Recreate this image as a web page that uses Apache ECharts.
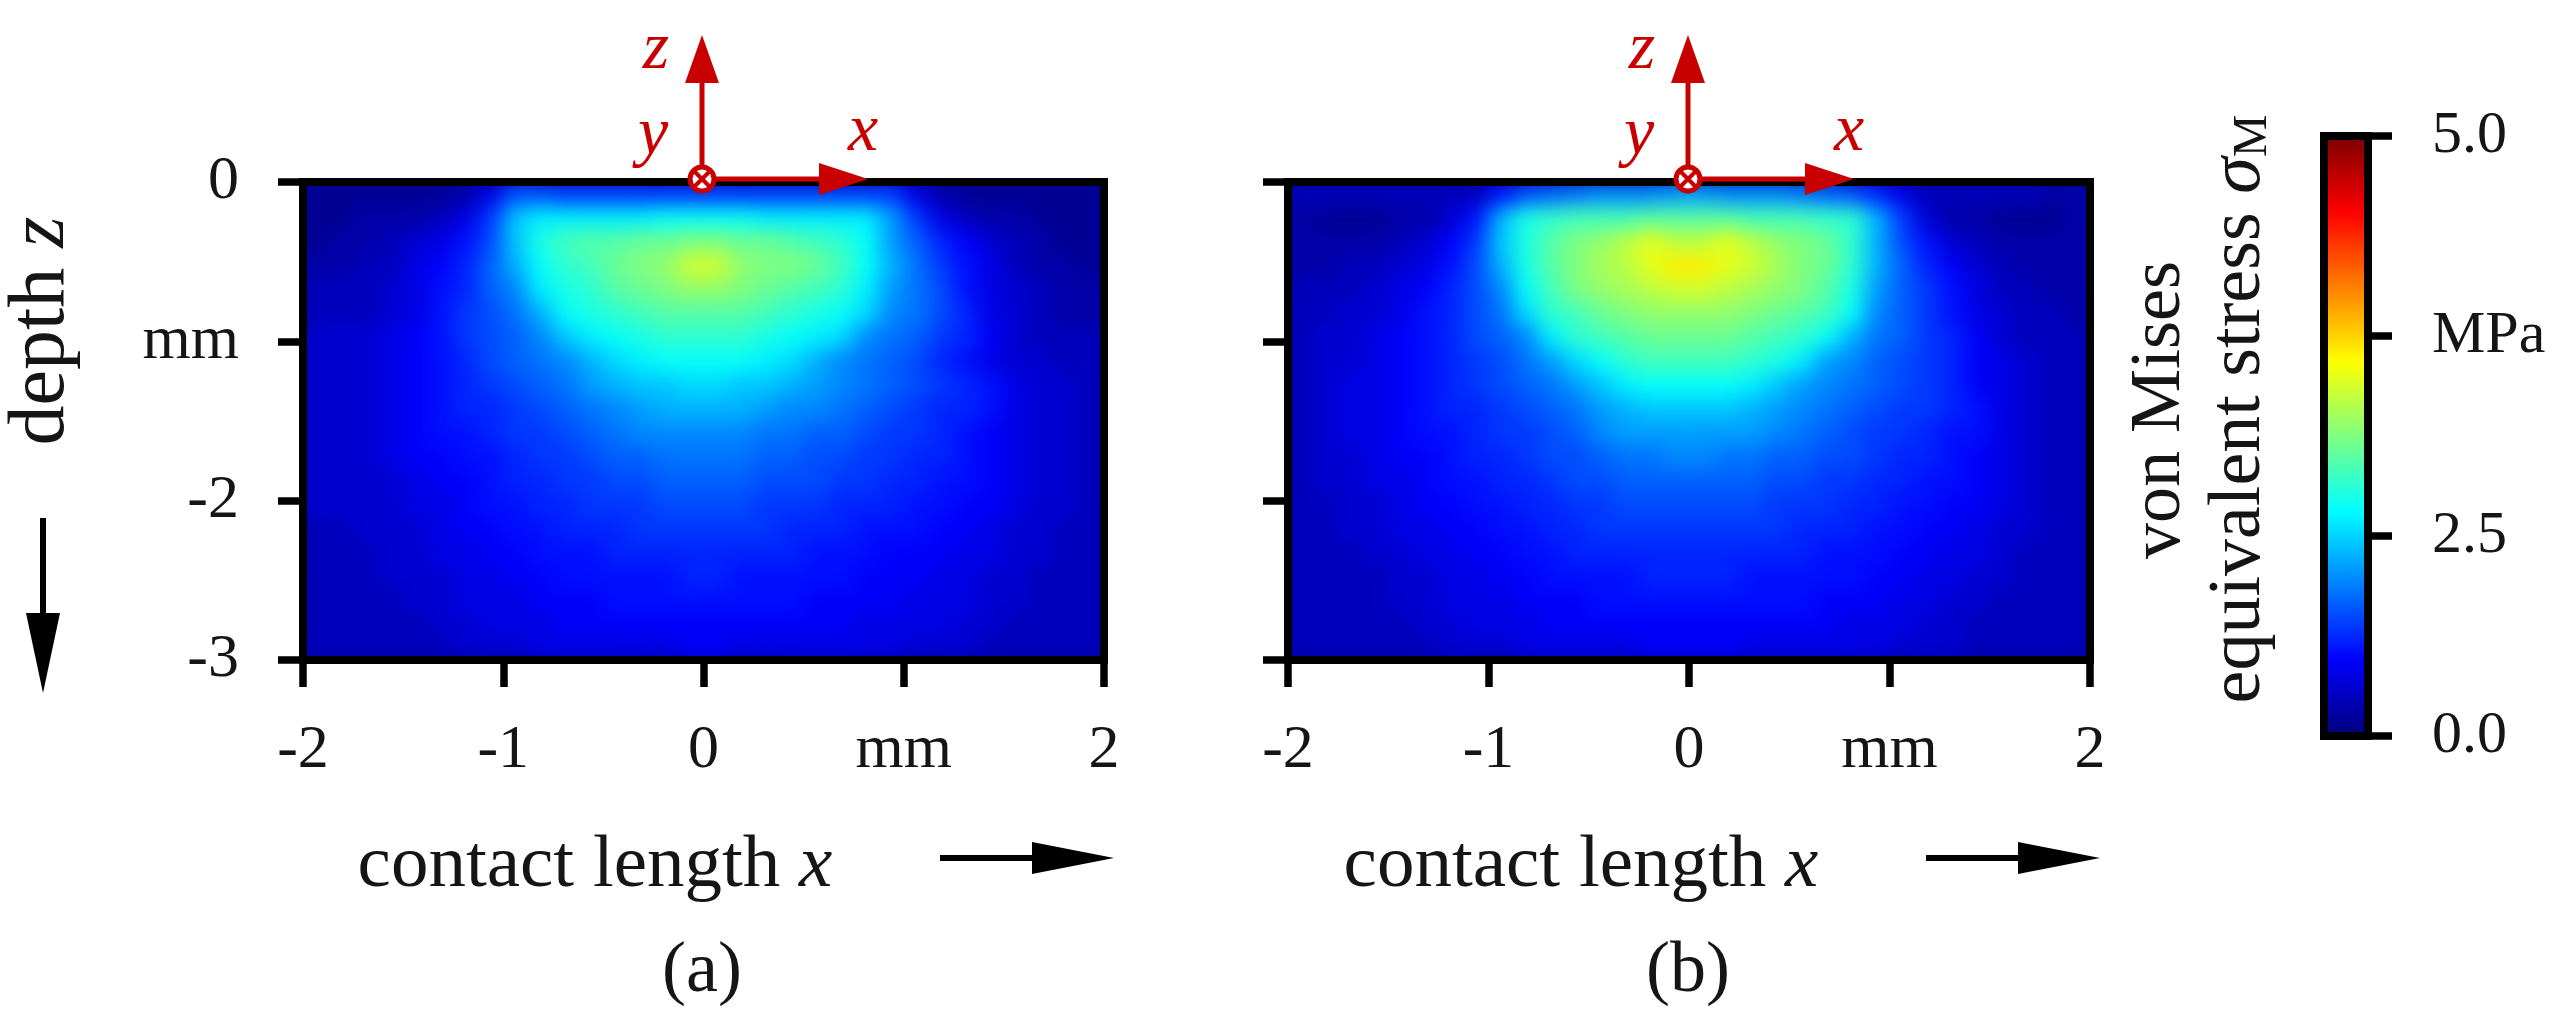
<!DOCTYPE html>
<html><head><meta charset="utf-8">
<style>
html,body{margin:0;padding:0;background:#fff;width:2564px;height:1030px;overflow:hidden}
#chart{width:2564px;height:1030px}
#chart canvas[data-zr-dom-id="zr_1"]{filter:blur(10px);clip-path:path('M303 182h801v478h-801z M1288 182h802v478h-802z')}
</style>
<script src="https://cdn.jsdelivr.net/npm/echarts@6/dist/echarts.min.js"></script>
</head><body><div id="chart"></div>
<script>
// cell centres (mm)
const xCells=[-1.94,-1.81,-1.69,-1.56,-1.44,-1.31,-1.19,-1.06,-0.94,-0.81,-0.69,-0.56,-0.44,-0.31,-0.19,-0.06,0.06,0.19,0.31,0.44,0.56,0.69,0.81,0.94,1.06,1.19,1.31,1.44,1.56,1.69,1.81,1.94];
const zCells=[-0.08,-0.23,-0.38,-0.53,-0.68,-0.83,-0.98,-1.13,-1.28,-1.43,-1.58,-1.73,-1.88,-2.03,-2.18,-2.33,-2.48,-2.63,-2.78,-2.93];
const xTickLabels=['-2','-1','0','mm','2'];
const zTickLabels={'0':'0','-1':'mm','-2':'-2','-3':'-3'};
const colorbarTicks=['0.0','2.5','MPa','5.0'];
// von Mises stress, in 0.1 MPa, one row per depth
const stressA=[
[1,1,1,1,1,1,2,5,10,10,9,9,9,9,9,9,9,9,9,9,9,9,9,9,5,2,1,1,1,1,1,1],
[1,1,2,2,2,3,5,9,16,18,18,18,18,18,19,19,19,19,18,18,18,18,18,14,9,5,3,2,2,1,1,1],
[1,2,2,3,4,5,7,10,16,20,22,23,23,24,24,25,25,24,24,23,22,21,19,14,11,8,6,4,3,2,1,1],
[2,2,3,3,5,6,8,11,15,19,21,22,24,25,26,29,29,26,25,25,24,22,19,15,12,9,7,5,3,2,2,1],
[3,3,3,4,5,7,8,11,13,18,20,21,23,24,25,26,26,25,24,23,22,21,18,14,12,10,7,5,4,3,2,2],
[3,3,3,4,5,7,9,10,12,15,19,20,21,22,23,23,23,23,22,21,20,19,17,13,12,10,8,5,4,3,2,2],
[4,4,4,5,6,7,9,10,11,13,16,18,19,20,21,21,21,21,20,19,18,17,13,12,11,9,8,6,4,3,3,3],
[4,4,4,5,6,7,8,10,11,12,13,15,17,18,19,19,19,19,18,17,15,13,12,11,10,8,7,5,4,4,3,3],
[4,4,4,5,6,7,8,9,10,11,12,14,15,16,16,17,17,16,16,15,14,13,12,11,10,9,8,7,5,4,4,3],
[4,4,4,5,6,7,8,8,9,10,11,12,13,14,15,15,15,15,14,13,13,12,11,10,9,8,8,7,5,4,4,3],
[4,4,4,5,6,7,7,8,9,9,10,11,12,13,13,13,13,13,12,12,11,11,10,9,9,8,7,6,5,4,4,3],
[4,4,4,5,6,6,7,7,8,9,9,10,11,11,12,12,12,12,11,11,10,10,9,9,8,8,7,6,5,4,4,3],
[4,4,4,4,5,6,6,7,8,8,9,9,10,10,11,11,11,11,10,10,10,9,9,8,8,7,7,6,5,4,4,3],
[4,4,4,4,5,5,6,7,7,8,8,9,9,9,10,10,10,10,9,9,9,8,8,8,7,7,6,6,5,4,4,3],
[3,3,4,4,4,5,6,6,7,7,8,8,8,9,9,9,9,9,9,8,8,8,7,7,7,6,6,5,4,4,3,3],
[3,3,3,4,4,5,5,6,6,7,7,7,8,8,8,8,8,8,8,8,7,7,7,6,6,6,5,5,4,4,3,3],
[3,3,3,4,4,4,5,5,6,6,7,7,7,7,7,8,8,7,7,7,7,7,6,6,6,5,5,4,4,3,3,3],
[3,3,3,3,4,4,5,5,5,6,6,6,7,7,7,7,7,7,7,7,6,6,6,6,5,5,5,4,4,3,3,3],
[3,3,3,3,3,4,4,5,5,5,6,6,6,6,6,6,6,6,6,6,6,6,5,5,5,5,4,4,3,3,3,3],
[3,3,3,3,3,3,4,4,4,5,5,5,5,5,5,6,6,5,5,5,5,5,5,5,4,4,4,3,3,3,3,3]
];
const stressB=[
[3,3,3,3,3,3,3,3,7,10,11,12,13,13,13,14,14,13,13,13,12,11,10,8,5,3,3,3,3,3,2,2],
[2,1,1,1,2,2,4,7,15,20,21,22,22,22,23,23,23,23,22,22,22,21,21,15,9,4,2,2,1,1,1,2],
[2,2,2,2,3,4,6,9,16,20,23,25,26,28,30,28,28,30,28,26,25,24,21,15,10,7,4,3,2,2,2,2],
[2,2,3,3,4,5,7,10,15,20,23,25,27,28,30,32,32,30,29,27,25,24,21,15,11,8,6,4,3,2,2,2],
[3,3,3,4,5,6,8,10,13,19,22,25,26,27,28,29,29,28,27,26,25,23,20,14,11,9,7,5,3,3,2,2],
[3,3,4,4,5,7,8,10,12,17,21,22,24,25,26,26,26,26,25,24,23,22,19,13,11,9,7,5,4,3,3,2],
[3,4,4,5,6,7,8,10,11,13,18,21,22,23,24,24,24,24,23,22,21,19,15,12,11,9,8,6,4,3,3,3],
[3,4,4,5,6,7,8,9,10,12,14,17,19,21,22,22,22,22,21,20,18,14,13,11,10,9,8,6,5,4,3,3],
[3,4,5,5,6,7,8,9,10,11,12,14,16,18,19,19,19,19,18,16,14,13,12,11,10,9,8,6,5,4,3,3],
[3,4,5,5,6,7,8,8,9,10,11,12,14,15,16,16,16,16,15,14,13,12,11,10,9,9,8,7,5,4,3,3],
[3,4,5,5,6,7,7,8,9,9,10,11,13,14,14,14,14,14,14,13,12,11,10,9,9,8,7,7,5,4,3,3],
[3,4,4,5,6,6,7,8,8,9,10,10,11,12,12,13,13,12,12,11,11,10,10,9,8,8,7,6,5,4,3,3],
[3,4,4,5,5,6,7,7,8,8,9,10,10,11,11,11,11,11,11,10,10,9,9,8,8,7,7,6,5,4,3,3],
[3,3,4,4,5,6,6,7,7,8,8,9,9,10,10,10,10,10,10,9,9,9,8,8,7,7,6,6,5,4,3,3],
[3,3,4,4,5,5,6,6,7,7,8,8,9,9,9,9,9,9,9,9,8,8,8,7,7,6,6,5,4,4,3,3],
[3,3,3,4,4,5,5,6,6,7,7,8,8,8,8,8,8,8,8,8,8,7,7,7,6,6,5,5,4,3,3,3],
[3,3,3,3,4,4,5,5,6,6,7,7,7,7,8,8,8,8,7,7,7,7,7,6,6,5,5,4,4,3,3,3],
[3,3,3,3,4,4,5,5,5,6,6,6,7,7,7,7,7,7,7,7,7,6,6,6,5,5,4,4,3,3,3,3],
[3,3,3,3,3,4,4,5,5,5,6,6,6,6,6,6,6,6,6,6,6,6,5,5,5,4,4,3,3,3,3,3],
[3,3,3,3,3,3,4,4,4,5,5,5,5,5,6,6,6,6,5,5,5,5,5,5,4,4,4,3,3,3,3,3]
];
const jet=['#00007f','#0000ff','#007fff','#00ffff','#7fff7f','#ffff00','#ff7f00','#ff0000','#7f0000'];

const SERIF='"Liberation Serif",serif', RED='#c80000', INK='#151515';
const toCells=rows=>rows.flatMap((r,j)=>r.map((v,i)=>[i,j,v]));
const hidden=(idx,extra)=>Object.assign({type:'category',gridIndex:idx,show:false,boundaryGap:true},extra);
const tickStyle={lineStyle:{color:'#000',width:7.5}};
function xValueAxis(g){return{type:'value',gridIndex:g,position:'bottom',min:-2,max:2,interval:1,zlevel:2,splitLine:{show:false},
  axisLine:{onZero:false,lineStyle:{color:'#000',width:8}},axisTick:Object.assign({length:27,inside:false},tickStyle),
  axisLabel:{margin:60,fontFamily:SERIF,fontSize:62,color:INK,showMinLabel:true,showMaxLabel:true,hideOverlap:false,formatter:v=>xTickLabels[v+2]}};}
function yValueAxis(g,labels){return{type:'value',gridIndex:g,position:'left',min:-3,max:0,interval:1,zlevel:2,splitLine:{show:false},
  axisLine:{onZero:false,lineStyle:{color:'#000',width:8}},axisTick:Object.assign({length:25},tickStyle),
  axisLabel:{show:labels,margin:64,fontFamily:SERIF,fontSize:62,color:INK,formatter:v=>zTickLabels[String(v)]}};}
const gridA={left:303,top:182,width:801,height:478}, gridB={left:1288,top:182,width:802,height:478}, gridC={left:2324,top:136,width:44,height:600};
const frame={show:true,borderColor:'#000',borderWidth:8,backgroundColor:'transparent',zlevel:2,z:5};

function arrow(x1,y1,x2,y2,head,half,w,color){
  const d=Math.hypot(x2-x1,y2-y1),ux=(x2-x1)/d,uy=(y2-y1)/d,bx=x2-ux*head,by=y2-uy*head;
  return [{type:'line',zlevel:3,shape:{x1,y1,x2:bx,y2:by},style:{stroke:color,lineWidth:w}},
          {type:'polygon',zlevel:3,shape:{points:[[x2,y2],[bx-uy*half,by+ux*half],[bx+uy*half,by-ux*half]]},style:{fill:color}}];
}
function txt(x,y,text,size,o){return Object.assign({type:'text',zlevel:3,x,y,style:Object.assign({text,fontFamily:SERIF,fontSize:size,fill:INK,textAlign:'center',textVerticalAlign:'middle'},o&&o.style)},o&&o.el);}
function axesMark(cx){
  const cy=179;
  return [...arrow(cx,cy,cx,35,48,17,5,RED),...arrow(cx,cy,cx+166,cy,49,16,5,RED),
    {type:'circle',zlevel:3,shape:{cx,cy,r:12},style:{fill:'#fff',stroke:RED,lineWidth:5}},
    {type:'line',zlevel:3,shape:{x1:cx-8,y1:cy-8,x2:cx+8,y2:cy+8},style:{stroke:RED,lineWidth:4}},
    {type:'line',zlevel:3,shape:{x1:cx+8,y1:cy-8,x2:cx-8,y2:cy+8},style:{stroke:RED,lineWidth:4}},
    txt(cx-46,50,'z',68,{style:{fill:RED,fontStyle:'italic'}}),
    txt(cx-49,136,'y',68,{style:{fill:RED,fontStyle:'italic'}}),
    txt(cx+161,132,'x',68,{style:{fill:RED,fontStyle:'italic'}})];
}
function xTitle(cx){
  return [txt(cx-107,866,'contact length {i|x}',75,{style:{rich:{i:{fontStyle:'italic',fontFamily:SERIF,fontSize:75,fill:INK}}}}),
    ...arrow(cx+238,858,cx+412,858,82,16,6,'#000'),
    txt(cx,972,cx<1000?'(a)':'(b)',72)];
}
const option={
  animation:false,
  grid:[Object.assign({},gridA,frame),Object.assign({},gridB,frame),Object.assign({},gridC,frame)],
  xAxis:[hidden(0,{data:xCells}),xValueAxis(0),hidden(1,{data:xCells}),xValueAxis(1),
    {type:'value',gridIndex:2,show:false,min:0,max:1}],
  yAxis:[hidden(0,{data:zCells,inverse:true}),yValueAxis(0,true),hidden(1,{data:zCells,inverse:true}),yValueAxis(1,false),
    {type:'value',gridIndex:2,position:'right',min:0,max:3,interval:1,zlevel:2,splitLine:{show:false},
     axisLine:{onZero:false,lineStyle:{color:'#000',width:8}},axisTick:{length:24,lineStyle:{color:'#000',width:7.5}},
     axisLabel:{margin:64,fontFamily:SERIF,fontSize:60,color:INK,formatter:v=>colorbarTicks[v]}}],
  visualMap:{type:'continuous',min:0,max:50,seriesIndex:[0,1],orient:'vertical',left:2326,top:138,itemWidth:40,itemHeight:596,padding:0,
    text:null,showLabel:false,calculable:false,realtime:false,hoverLink:false,inRange:{color:jet},textStyle:{fontSize:0,color:'transparent'},formatter:()=>''},
  series:[
    {type:'heatmap',xAxisIndex:0,yAxisIndex:0,zlevel:1,progressive:0,data:toCells(stressA),emphasis:{disabled:true}},
    {type:'heatmap',xAxisIndex:2,yAxisIndex:2,zlevel:1,progressive:0,data:toCells(stressB),emphasis:{disabled:true}}
  ],
  graphic:{elements:[
    {type:'rect',zlevel:0,shape:{x:303,y:182,width:801,height:478},style:{fill:'#00009a'}},
    {type:'rect',zlevel:0,shape:{x:1288,y:182,width:802,height:478},style:{fill:'#00009a'}},
    ...axesMark(702),...axesMark(1688),...xTitle(702),...xTitle(1688),
    txt(42,331,'depth {i|z}',80,{el:{rotation:Math.PI/2},style:{rich:{i:{fontStyle:'italic',fontFamily:SERIF,fontSize:80,fill:INK}}}}),
    ...arrow(43,518,43,693,80,17,6,'#000'),
    txt(2160,410,'von Mises',72,{el:{rotation:Math.PI/2}}),
    txt(2240,409,'equivalent stress {i|σ}{s|M}',74,{el:{rotation:Math.PI/2},style:{rich:{i:{fontStyle:'italic',fontFamily:SERIF,fontSize:74,fill:INK},s:{fontFamily:SERIF,fontSize:48,fill:INK,verticalAlign:'bottom'}}}})
  ]}
};
const chart=echarts.init(document.getElementById('chart'),null,{renderer:'canvas',devicePixelRatio:1});
chart.setOption(option);
</script></body></html>
